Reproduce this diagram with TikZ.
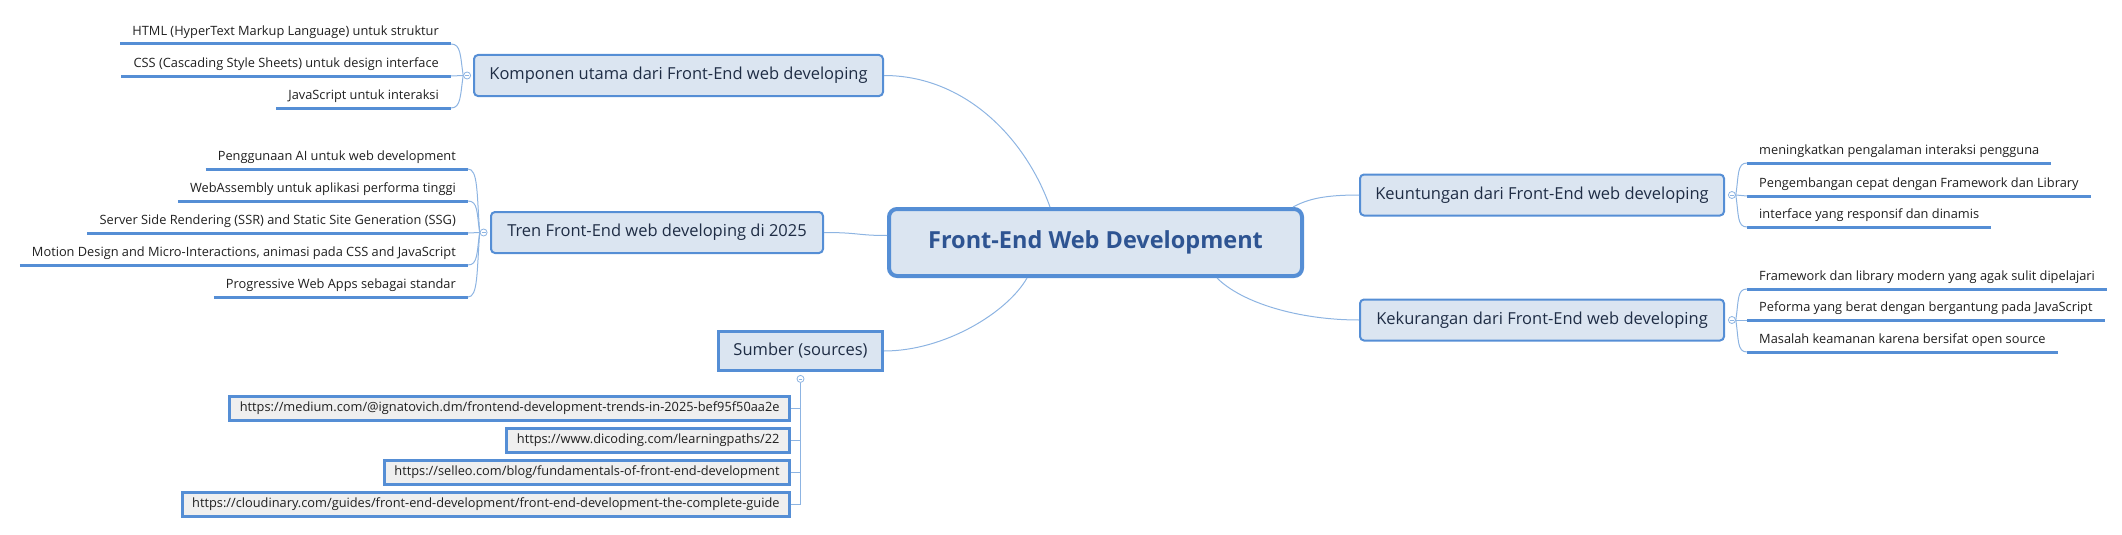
\documentclass[tikz,border=0pt]{standalone}
\usepackage{fontspec}
\setmainfont{Open Sans}
\usetikzlibrary{positioning,calc}

\definecolor{mapblue}{HTML}{558ED5}
\definecolor{mapfill}{HTML}{DBE5F1}
\definecolor{mapline}{HTML}{8DB4E2}
\definecolor{maptext}{HTML}{2E5492}
\definecolor{topictext}{HTML}{1F2D45}
\definecolor{urlfill}{HTML}{EFEFEF}

\begin{document}
\begin{tikzpicture}[x=1pt, y=-1pt,
  central/.style={draw=mapblue, line width=4pt, fill=mapfill, rounded corners=8pt, minimum width=413pt, minimum height=67pt, font=\fontsize{23.5}{28}\selectfont\bfseries, text=maptext},
  topic/.style={draw=mapblue, line width=2pt, fill=mapfill, rounded corners=4pt, minimum height=41pt, font=\fontsize{16.5}{19}\selectfont, text=topictext},
  srctopic/.style={draw=mapblue, line width=3pt, fill=mapfill, minimum width=164pt, minimum height=39pt, font=\fontsize{16.5}{19}\selectfont, text=topictext},
  leaf/.style={inner xsep=12pt, inner ysep=5pt, text height=10pt, text depth=3pt, font=\fontsize{12.8}{15}\selectfont, text=black!88},
  leafL/.style={leaf, anchor=south east},
  leafR/.style={leaf, anchor=south west},
  uline/.style={draw=mapblue, line width=3pt},
  urlbox/.style={draw=mapblue, line width=3pt, fill=urlfill, anchor=east, minimum height=24pt, inner xsep=10pt, font=\fontsize{12.8}{15}\selectfont, text=black!88},
  conn/.style={draw=mapline, line width=1pt},
  fold/.style={circle, draw=mapline, fill=white, line width=0.8pt, minimum size=7pt, inner sep=0pt,
    path picture={\draw[mapline, line width=0.6pt] ([xshift=1.6pt]path picture bounding box.west) -- ([xshift=-1.6pt]path picture bounding box.east);}}
]
\useasboundingbox (0,0) rectangle (2122,535);

% Pusat
\node[central] (central) at (1095.5,242.5) {Front-End Web Development};

% Cabang utama
\node[topic, minimum width=409pt] (komponen) at (678.5,75.5) {Komponen utama dari Front-End web developing};
\node[topic, minimum width=332pt] (tren) at (657,232.5) {Tren Front-End web developing di 2025};
\node[srctopic] (sumber) at (800.5,351) {Sumber (sources)};
\node[topic, minimum width=364pt] (untung) at (1542,195) {Keuntungan dari Front-End web developing};
\node[topic, minimum width=364pt] (kurang) at (1542,320) {Kekurangan dari Front-End web developing};

% Tanda lipat
\node[fold, left=2pt of komponen] (kompfold) {};
\node[fold, left=2.5pt of tren] (trenfold) {};
\node[fold, below=3pt of sumber] (srcfold) {};
\node[fold, right=3pt of untung] (untfold) {};
\node[fold, right=3pt of kurang] (kurfold) {};

% Komponen
\node[leafL] (html) at (451,44) {HTML (HyperText Markup Language) untuk struktur};
\node[leafL] (css) at (451,76) {CSS (Cascading Style Sheets) untuk design interface};
\node[leafL] (js) at (451,108) {JavaScript untuk interaksi};

% Tren
\node[leafL] (ai) at (468,169) {Penggunaan AI untuk web development};
\node[leafL] (wasm) at (468,201) {WebAssembly untuk aplikasi performa tinggi};
\node[leafL] (ssr) at (468,233) {Server Side Rendering (SSR) and Static Site Generation (SSG)};
\node[leafL] (motion) at (468,265) {Motion Design and Micro-Interactions, animasi pada CSS and JavaScript};
\node[leafL] (pwa) at (468,297) {Progressive Web Apps sebagai standar};

% Keuntungan
\node[leafR] (ux) at (1747,163) {meningkatkan pengalaman interaksi pengguna};
\node[leafR] (cepat) at (1747,196) {Pengembangan cepat dengan Framework dan Library};
\node[leafR] (responsif) at (1747,227) {interface yang responsif dan dinamis};

% Kekurangan
\node[leafR] (sulit) at (1747,289) {Framework dan library modern yang agak sulit dipelajari};
\node[leafR] (berat) at (1747,320) {Peforma yang berat dengan bergantung pada JavaScript};
\node[leafR] (aman) at (1747,352) {Masalah keamanan karena bersifat open source};

% Sumber
\node[urlbox] (medium) at (791,408.5) {https://medium.com/@ignatovich.dm/frontend-development-trends-in-2025-bef95f50aa2e};
\node[urlbox] (dicoding) at (791,440.5) {https://www.dicoding.com/learningpaths/22};
\node[urlbox] (selleo) at (791,472.5) {https://selleo.com/blog/fundamentals-of-front-end-development};
\node[urlbox] (cloudinary) at (791,504.5) {https://cloudinary.com/guides/front-end-development/front-end-development-the-complete-guide};

% Garis bawah
\draw[uline] (html.south west) -- (html.south east);
\draw[uline] (css.south west) -- (css.south east);
\draw[uline] (js.south west) -- (js.south east);
\draw[uline] (ai.south west) -- (ai.south east);
\draw[uline] (wasm.south west) -- (wasm.south east);
\draw[uline] (ssr.south west) -- (ssr.south east);
\draw[uline] (motion.south west) -- (motion.south east);
\draw[uline] (pwa.south west) -- (pwa.south east);
\draw[uline] (ux.south west) -- (ux.south east);
\draw[uline] (cepat.south west) -- (cepat.south east);
\draw[uline] (responsif.south west) -- (responsif.south east);
\draw[uline] (sulit.south west) -- (sulit.south east);
\draw[uline] (berat.south west) -- (berat.south east);
\draw[uline] (aman.south west) -- (aman.south east);

% Hubungan ke pusat
\draw[conn] (komponen.east) .. controls +(80,0) and +(-25,-70) .. ([xshift=-45.5pt]central.north);
\draw[conn] (tren.east) .. controls +(35,0) and +(-30,0) .. ([yshift=7pt]central.west);
\draw[conn] (sumber.east) .. controls +(60,0) and +(-20,35) .. ([xshift=-68.5pt]central.south);
\draw[conn] ([xshift=-11pt]central.north east) .. controls +(15,-8) and +(-35,0) .. (untung.west);
\draw[conn] ([xshift=121.5pt]central.south) .. controls +(25,25) and +(-60,0) .. (kurang.west);

% Kurung
\draw[conn] (html.south east) .. controls +(10,0) and +(-3,-20) .. (kompfold.west);
\draw[conn] (css.south east) -- (kompfold.west);
\draw[conn] (js.south east) .. controls +(10,0) and +(-3,20) .. (kompfold.west);
\draw[conn] (ai.south east) .. controls +(10,0) and +(-3,-40) .. (trenfold.west);
\draw[conn] (wasm.south east) .. controls +(10,0) and +(-3,-20) .. (trenfold.west);
\draw[conn] (ssr.south east) -- (trenfold.west);
\draw[conn] (motion.south east) .. controls +(10,0) and +(-3,20) .. (trenfold.west);
\draw[conn] (pwa.south east) .. controls +(10,0) and +(-3,40) .. (trenfold.west);
\draw[conn] (untfold.east) .. controls +(3,-20) and +(-10,0) .. (ux.south west);
\draw[conn] (untfold.east) -- (cepat.south west);
\draw[conn] (untfold.east) .. controls +(3,20) and +(-10,0) .. (responsif.south west);
\draw[conn] (kurfold.east) .. controls +(3,-20) and +(-10,0) .. (sulit.south west);
\draw[conn] (kurfold.east) -- (berat.south west);
\draw[conn] (kurfold.east) .. controls +(3,20) and +(-10,0) .. (aman.south west);
\draw[conn] (srcfold.south) |- (medium.east);
\draw[conn] (srcfold.south) |- (dicoding.east);
\draw[conn] (srcfold.south) |- (selleo.east);
\draw[conn] (srcfold.south) |- (cloudinary.east);
\end{tikzpicture}
\end{document}
